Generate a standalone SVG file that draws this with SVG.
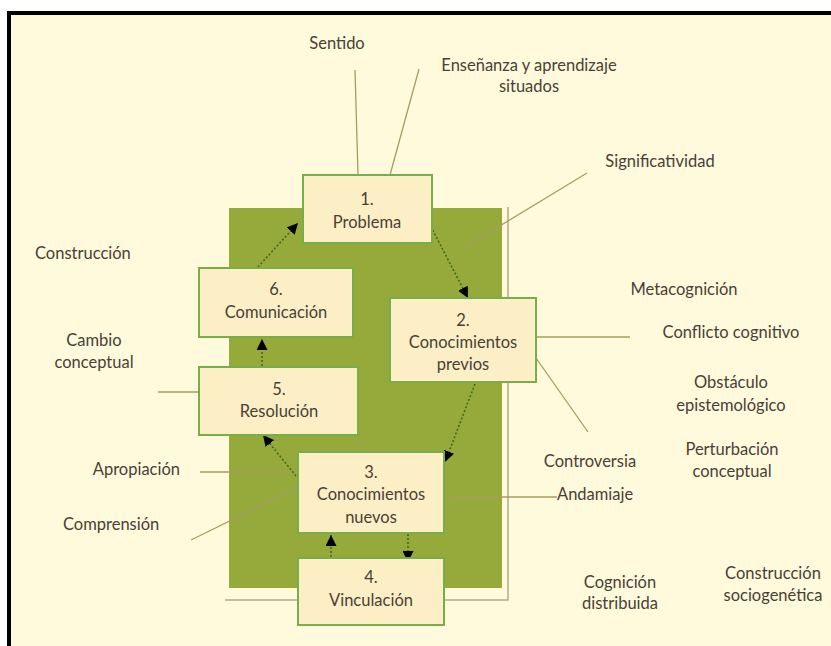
<svg xmlns="http://www.w3.org/2000/svg" width="831" height="646" viewBox="0 0 831 646">
<defs>
<style>
.lbl{font-family:Lato,"Open Sans","Liberation Sans",sans-serif;font-size:16.5px;fill:#4a3f36}
.bx{font-family:Lato,"Open Sans","Liberation Sans",sans-serif;font-size:16.5px;fill:#4a3f36;text-anchor:middle}
.box{fill:#fcefc6;stroke:#78ad48;stroke-width:2}
.ln{stroke:#a79c63;stroke-width:1.3;fill:none}
.arr{stroke:#3f6a1c;stroke-width:1.6;stroke-dasharray:2 2;fill:none;marker-end:url(#ah)}
</style>
<marker id="ah" viewBox="0 0 10 10" refX="10" refY="5" markerWidth="11" markerHeight="11" markerUnits="userSpaceOnUse" orient="auto">
<path d="M0,0 L10,5 L0,10 z" fill="#000"/>
</marker>
</defs>
<rect width="831" height="646" fill="#ffffff"/>
<rect x="9" y="13" width="830" height="640" fill="#fffadc" stroke="#000" stroke-width="4"/>
<g id="frame">
<rect x="229" y="208" width="273" height="380" fill="#95aa3b"/>
<path d="M508,207 L508,600 L225,600" fill="none" stroke="#b3a98c" stroke-width="1.5"/>
</g>
<g id="connectors">
<line class="ln" x1="355" y1="70" x2="358" y2="175"/>
<line class="ln" x1="419" y1="69" x2="390" y2="175"/>
<line class="ln" x1="587" y1="173" x2="465" y2="247"/>
<line class="ln" x1="536" y1="337" x2="630" y2="337"/>
<line class="ln" x1="536" y1="358" x2="588" y2="432"/>
<line class="ln" x1="450" y1="497" x2="557" y2="497"/>
<line class="ln" x1="158" y1="392" x2="199" y2="392"/>
<line class="ln" x1="200" y1="472" x2="300" y2="472"/>
<line class="ln" x1="191" y1="540" x2="301" y2="486"/>
<line class="arr" x1="429" y1="223" x2="468" y2="298"/>
<line class="arr" x1="475" y1="384" x2="445" y2="462"/>
<line class="arr" x1="296" y1="476" x2="263" y2="435"/>
<line class="arr" x1="262" y1="366" x2="262" y2="339"/>
<line class="arr" x1="258" y1="267" x2="298" y2="223"/>
<line class="arr" x1="331" y1="557" x2="331" y2="535"/>
<line class="arr" x1="408" y1="534" x2="408" y2="562"/>
</g>
<g id="n1"><rect class="box" x="303" y="175" width="129" height="68"/><text class="bx" x="367" y="205">1.</text><text class="bx" x="367" y="228">Problema</text></g>
<g id="n2"><rect class="box" x="390" y="298" width="146" height="84"/><text class="bx" x="463" y="326">2.</text><text class="bx" x="463" y="348">Conocimientos</text><text class="bx" x="463" y="370">previos</text></g>
<g id="n3"><rect class="box" x="298" y="452" width="146" height="81"/><text class="bx" x="371" y="478">3.</text><text class="bx" x="371" y="500">Conocimientos</text><text class="bx" x="371" y="523">nuevos</text></g>
<g id="n4"><rect class="box" x="298" y="558" width="146" height="67"/><text class="bx" x="371" y="583">4.</text><text class="bx" x="371" y="606">Vinculación</text></g>
<g id="n5"><rect class="box" x="199" y="367" width="159" height="68"/><text class="bx" x="279" y="395">5.</text><text class="bx" x="279" y="417">Resolución</text></g>
<g id="n6"><rect class="box" x="199" y="268" width="154" height="69"/><text class="bx" x="276" y="295">6.</text><text class="bx" x="276" y="318">Comunicación</text></g>
<g id="labels">
<text class="lbl" x="337" y="49" text-anchor="middle">Sentido</text>
<text class="lbl" x="529" y="71" text-anchor="middle">Enseñanza y aprendizaje</text>
<text class="lbl" x="529" y="92" text-anchor="middle">situados</text>
<text class="lbl" x="660" y="167" text-anchor="middle">Significatividad</text>
<text class="lbl" x="35" y="259">Construcción</text>
<text class="lbl" x="684" y="295" text-anchor="middle">Metacognición</text>
<text class="lbl" x="731" y="338" text-anchor="middle">Conflicto cognitivo</text>
<text class="lbl" x="731" y="388" text-anchor="middle">Obstáculo</text>
<text class="lbl" x="731" y="411" text-anchor="middle">epistemológico</text>
<text class="lbl" x="732" y="455" text-anchor="middle">Perturbación</text>
<text class="lbl" x="732" y="477" text-anchor="middle">conceptual</text>
<text class="lbl" x="590" y="467" text-anchor="middle">Controversia</text>
<text class="lbl" x="557" y="500">Andamiaje</text>
<text class="lbl" x="94" y="346" text-anchor="middle">Cambio</text>
<text class="lbl" x="94" y="368" text-anchor="middle">conceptual</text>
<text class="lbl" x="180" y="475" text-anchor="end">Apropiación</text>
<text class="lbl" x="63" y="530">Comprensión</text>
<text class="lbl" x="620" y="588" text-anchor="middle">Cognición</text>
<text class="lbl" x="620" y="609" text-anchor="middle">distribuida</text>
<text class="lbl" x="773" y="579" text-anchor="middle">Construcción</text>
<text class="lbl" x="773" y="601" text-anchor="middle">sociogenética</text>
</g>
</svg>
